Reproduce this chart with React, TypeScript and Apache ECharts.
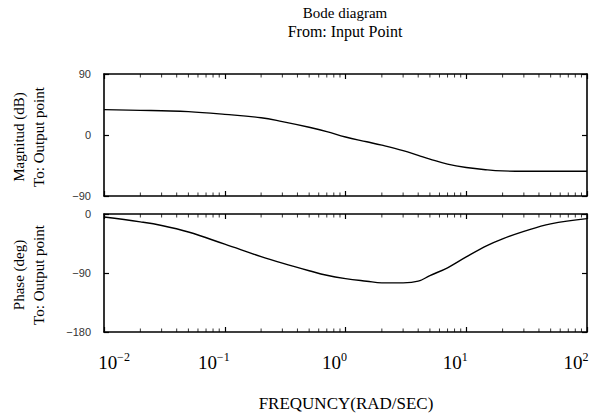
import React, { useEffect, useRef } from "react";
import * as echarts from "echarts";

// Frequencies (rad/sec)
const FREQ = [0.01, 0.02, 0.03, 0.05, 0.1, 0.2, 0.3, 0.5, 0.7, 1, 1.5, 2, 3, 4, 5, 7, 10, 15, 20, 30, 50, 100];
// Magnitude (dB)
const MAG = [37.5, 36.4, 35.7, 34.5, 30.5, 25.5, 19.8, 11.5, 5, -3, -10, -15, -23, -30, -35.5, -43, -48, -51.5, -53, -53.5, -53.5, -53.5];
// Phase (deg)
const PHASE = [-4.5, -12, -17.5, -27.5, -46, -65, -75, -86.5, -93.5, -98.5, -102.5, -105, -105, -102.5, -94, -82, -65.5, -48, -38, -26.5, -15, -7];

// Minor log ticks (decorative)
const MINOR_TICKS = [
  0.02, 0.03, 0.04, 0.05, 0.06, 0.07, 0.08, 0.09,
  0.2, 0.3, 0.4, 0.5, 0.6, 0.7, 0.8, 0.9,
  2, 3, 4, 5, 6, 7, 8, 9,
  20, 30, 40, 50, 60, 70, 80, 90,
];

const MAG_RANGE = [-90, 90];
const PHASE_RANGE = [-180, 0];

const TITLE = "Bode diagram";
const SUBTITLE = "From: Input Point";
const X_NAME = "FREQUNCY(RAD/SEC)";
const MAG_NAME = ["Magnitud (dB)", "To: Output point"];
const PHASE_NAME = ["Phase (deg)", "To: Output point"];

const SERIF = "'Liberation Serif', 'Times New Roman', serif";
const SANS = "'Liberation Sans', Arial, sans-serif";

const minus = (v: number) => (v < 0 ? "\u2212" + Math.abs(v) : String(v));

export default function App() {
  const ref = useRef<HTMLDivElement>(null);
  useEffect(() => {
    if (!ref.current) return;
    const chart = echarts.init(ref.current, null, { renderer: "svg" });

    const axisLine = { show: true, onZero: false, lineStyle: { color: "#000", width: 1.6 } };
    const xBase = (gridIndex: number, position: string, showLabel: boolean) => ({
      type: "log",
      logBase: 10,
      min: 0.01,
      max: 100,
      gridIndex,
      position,
      axisLine,
      axisTick: { show: true, inside: true, length: 5, lineStyle: { color: "#000", width: 1.2 } },
      splitLine: { show: false },
      minorTick: { show: false },
      axisLabel: showLabel
        ? {
            show: true,
            margin: 19,
            formatter: (v: number) => {
              const e = Math.round(Math.log10(v));
              const exp = e < 0 ? "\u2212" + -e : String(e);
              if (e === -2) return `{padl| }{b|10}{s|${exp}}`;
              return `{b|10}{s|${exp}}{padr| }`;
            },
            rich: {
              b: { fontFamily: SERIF, fontSize: 19, lineHeight: 22, color: "#000" },
              s: { fontFamily: SERIF, fontSize: 12, lineHeight: 12, verticalAlign: "top", color: "#000" },
              padl: { width: 20, fontSize: 10 },
              padr: { width: 22, fontSize: 10 },
            },
          }
        : { show: false },
    });
    const yBase = (gridIndex: number, position: string, range: number[], showLabel: boolean) => ({
      type: "value",
      gridIndex,
      position,
      min: range[0],
      max: range[1],
      interval: 90,
      axisLine,
      axisTick: { show: true, inside: true, length: 5, lineStyle: { color: "#000", width: 1.2 } },
      splitLine: { show: false },
      axisLabel: showLabel
        ? { show: true, margin: 13, fontFamily: SANS, fontSize: 11, color: "#333", formatter: minus }
        : { show: false },
    });

    const tickSeries = (xi: number, yi: number, yv: number, dir: number) => ({
      type: "scatter",
      xAxisIndex: xi,
      yAxisIndex: yi,
      data: MINOR_TICKS.map((f) => [f, yv]),
      symbol: "rect",
      symbolSize: [1, 3.5],
      symbolOffset: [0, dir * 1.75],
      itemStyle: { color: "#000" },
      silent: true,
      clip: false,
      z: 5,
    });

    const nameText = (x: number, y: number, text: string) => ({
      type: "text",
      x,
      y,
      rotation: Math.PI / 2,
      style: {
        text,
        fontFamily: SERIF,
        fontSize: 15,
        fill: "#000",
        align: "center",
        verticalAlign: "middle",
      },
    });

    chart.setOption({
      animation: false,
      backgroundColor: "#fff",
      grid: [
        { left: 104, top: 74, width: 483, height: 122, outerBoundsMode: "none", containLabel: false },
        { left: 104, top: 214, width: 483, height: 118, outerBoundsMode: "none", containLabel: false },
      ],
      xAxis: [
        xBase(0, "bottom", false),
        xBase(0, "top", false),
        xBase(1, "bottom", true),
        xBase(1, "top", false),
      ],
      yAxis: [
        yBase(0, "left", MAG_RANGE, true),
        yBase(0, "right", MAG_RANGE, false),
        yBase(1, "left", PHASE_RANGE, true),
        yBase(1, "right", PHASE_RANGE, false),
      ],
      series: [
        {
          name: "Magnitude",
          type: "line",
          xAxisIndex: 0,
          yAxisIndex: 0,
          data: FREQ.map((f, i) => [f, MAG[i]]),
          smooth: 0.4,
          showSymbol: false,
          lineStyle: { color: "#000", width: 1.4 },
        },
        {
          name: "Phase",
          type: "line",
          xAxisIndex: 2,
          yAxisIndex: 2,
          data: FREQ.map((f, i) => [f, PHASE[i]]),
          smooth: 0.4,
          showSymbol: false,
          lineStyle: { color: "#000", width: 1.4 },
        },
        tickSeries(1, 0, MAG_RANGE[1], 1),
        tickSeries(0, 0, MAG_RANGE[0], -1),
        tickSeries(3, 2, PHASE_RANGE[1], 1),
        tickSeries(2, 2, PHASE_RANGE[0], -1),
      ],
      graphic: [
        {
          type: "text",
          x: 345,
          y: 13,
          style: { text: TITLE, fontFamily: SERIF, fontSize: 15, fill: "#000", align: "center", verticalAlign: "middle" },
        },
        {
          type: "text",
          x: 345,
          y: 31,
          style: { text: SUBTITLE, fontFamily: SERIF, fontSize: 16, fill: "#000", align: "center", verticalAlign: "middle" },
        },
        {
          type: "text",
          x: 346,
          y: 403,
          style: { text: X_NAME, fontFamily: SERIF, fontSize: 17, fill: "#000", align: "center", verticalAlign: "middle" },
        },
        nameText(19, 137, MAG_NAME[0]),
        nameText(39, 137, MAG_NAME[1]),
        nameText(19, 275, PHASE_NAME[0]),
        nameText(39, 275, PHASE_NAME[1]),
      ],
    });
    return () => chart.dispose();
  }, []);
  return <div ref={ref} style={{ position: "fixed", left: 0, top: 0, width: 590, height: 414 }} />;
}
